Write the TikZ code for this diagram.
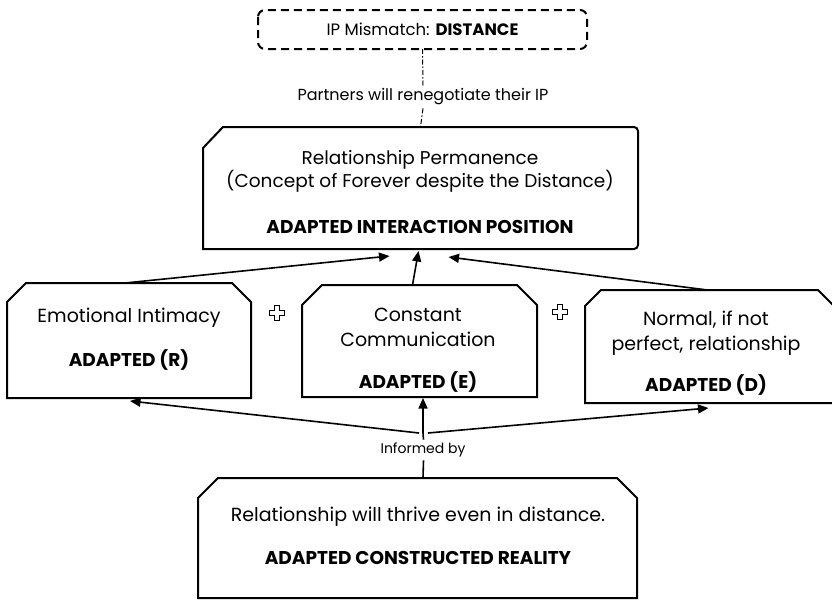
\documentclass[tikz,border=0pt]{standalone}
\usepackage{fontspec}
\setmainfont{Poppins}
\usetikzlibrary{calc,arrows.meta}

\tikzset{
  region/.style={inner sep=0pt, outer sep=0pt},
  outline/.style={line width=2pt, line join=miter},
  txt/.style={inner sep=0pt, align=center, font=\fontsize{19}{25}\selectfont},
  boldtxt/.style={inner sep=0pt, align=center, font=\fontsize{18.5}{22}\selectfont\bfseries},
  smalltxt/.style={inner sep=1pt, fill=white, font=\fontsize{14}{16}\selectfont},
  arrow/.style={line width=1.6pt, -{Triangle[length=10.5pt,width=9pt]}},
  plain/.style={line width=1.6pt},
  dashdot/.style={line width=1pt, dash pattern=on 5pt off 2pt on 1.5pt off 2pt},
  plus/.style={line width=1.5pt, fill=white, line join=miter}
}

% plus sign drawn as an outlined cross
\newcommand\plussign[1]{%
  \draw[plus] ($(#1)+(-2.5,-7.5)$) -- ($(#1)+(2.5,-7.5)$) -- ($(#1)+(2.5,-2.5)$) -- ($(#1)+(7.5,-2.5)$)
    -- ($(#1)+(7.5,2.5)$) -- ($(#1)+(2.5,2.5)$) -- ($(#1)+(2.5,7.5)$) -- ($(#1)+(-2.5,7.5)$)
    -- ($(#1)+(-2.5,2.5)$) -- ($(#1)+(-7.5,2.5)$) -- ($(#1)+(-7.5,-2.5)$) -- ($(#1)+(-2.5,-2.5)$) -- cycle;}

% box with both top corners cut off
\newcommand\snipbox[2]{%
  \draw[outline] (#1.south west) -- ($(#1.north west)+(0,#2)$) -- ($(#1.north west)+(#2,0)$)
    -- ($(#1.north east)+(-#2,0)$) -- ($(#1.north east)+(0,#2)$) -- (#1.south east) -- cycle;}

\begin{document}
\begin{tikzpicture}[x=1pt, y=-1pt]
\useasboundingbox (0,0) rectangle (832,600);

% ---------- mismatch ----------
\node[region, minimum width=329pt, minimum height=39pt] (mis) at (422.5,29.5) {};
\draw[line width=2pt, rounded corners=7pt, dash pattern=on 8pt off 5pt]
  (mis.north west) rectangle (mis.south east);
\node[txt, font=\fontsize{16.5}{18}\selectfont] (mistxt) at (mis.center) {IP Mismatch: \textbf{DISTANCE}};

\node[smalltxt, inner ysep=3pt, font=\fontsize{16}{18}\selectfont] (ptn) at (423,97) {Partners will renegotiate their IP};

% ---------- interaction position ----------
\node[region, minimum width=435pt, minimum height=122pt] (perm) at (420.5,188) {};
\draw[outline] (perm.south west) -- ($(perm.north west)+(0,21)$) -- ($(perm.north west)+(20,0)$)
  [rounded corners=4pt] -- (perm.north east) -- (perm.south east) [sharp corners] -- cycle;
\node[txt, font=\fontsize{18.5}{22}\selectfont] (permtxt) at (420,171) {Relationship Permanence\\(Concept of Forever despite the Distance)};
\node[boldtxt] (permb) at (420,227) {ADAPTED INTERACTION POSITION};

\draw[dashdot] (mis.south) -- (ptn.north);
\draw[dashdot] (ptn.south) -- (perm.north);

% ---------- three components ----------
\node[region, minimum width=244pt, minimum height=115pt] (emo) at (129,340.5) {};
\snipbox{emo}{19}
\node[txt] (emotxt) at (129,318) {Emotional Intimacy};
\node[boldtxt] (emob) at (129,360) {ADAPTED (R)};

\node[region, minimum width=235pt, minimum height=112pt] (con) at (419.5,341) {};
\snipbox{con}{20}
\node[txt] (context) at (418,327.5) {Constant\\Communication};
\node[boldtxt] (conb) at (418,382) {ADAPTED (E)};

\node[region, minimum width=249pt, minimum height=113pt] (nor) at (709.5,346.5) {};
\snipbox{nor}{16}
\node[txt] (nortxt) at (706,333) {Normal, if not\\perfect, relationship};
\node[boldtxt] (norb) at (706,385) {ADAPTED (D)};

\coordinate (p1) at (277,313);
\coordinate (p2) at (560,312);
\plussign{p1}
\plussign{p2}

\draw[arrow] ($(emo.north)+(-4,0)$) -- ($(perm.south)+(-31,7)$);
\draw[arrow] ($(con.north)+(-7,0)$) -- ($(perm.south)+(-2,2)$);
\draw[arrow] ($(nor.north)+(-2,0)$) -- ($(perm.south)+(28,8)$);

% ---------- constructed reality ----------
\node[region, minimum width=439pt, minimum height=120pt] (real) at (417.5,538) {};
\snipbox{real}{20}
\node[txt] (realtxt) at (418,517) {Relationship will thrive even in distance.};
\node[boldtxt] (realb) at (418,558) {ADAPTED CONSTRUCTED REALITY};

\node[smalltxt, inner ysep=3pt] (inf) at (423,450) {Informed by};
\coordinate (j) at (423,433);

\draw[plain] ($(real.north)+(5.5,0)$) -- ($(inf.south)+(0.5,0)$);
\draw[plain] ($(inf.north)+(0.5,0)$) -- (j);
\draw[arrow] (j) -- ($(con.south)+(3.5,1)$);
\draw[arrow] ($(j)+(-4,0)$) -- ($(emo.south)+(1,3)$);
\draw[arrow] ($(j)+(5,0)$) -- ($(nor.south)+(-1,5)$);
\end{tikzpicture}
\end{document}
